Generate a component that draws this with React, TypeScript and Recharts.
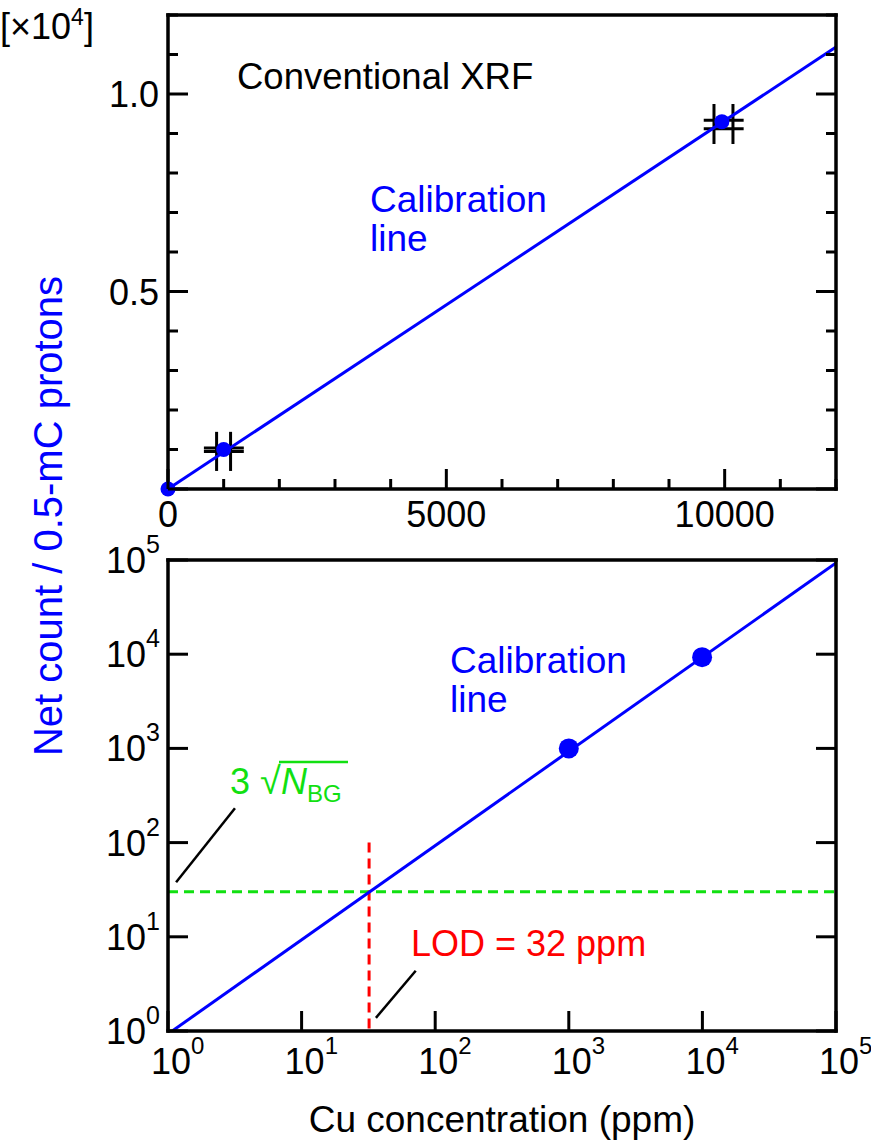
import React from "react";
import {
  ComposedChart,
  Line,
  Scatter,
  XAxis,
  YAxis,
  ReferenceLine,
} from "recharts";

// top panel: linear calibration (conventional XRF)
const xrfConc = [0, 1000, 9950];
const xrfCount = [0, 1000, 9300];
const calConc = [0, 12000];
const calCount = [0, 11190];
const linTicks = [0, 1000, 2000, 3000, 4000, 5000, 6000, 7000, 8000, 9000, 10000, 11000, 12000];

// error hashes on the top panel (data units)
const hashH = [
  { y: 1040, x1: 645, x2: 1362 },
  { y: 950, x1: 645, x2: 1362 },
  { y: 9334, x1: 9624, x2: 10341 },
  { y: 9121, x1: 9624, x2: 10341 },
];
const hashV = [
  { x: 873, y1: 457, y2: 1447 },
  { x: 1124, y1: 457, y2: 1447 },
  { x: 9808, y1: 8734, y2: 9747 },
  { x: 10149, y1: 8734, y2: 9747 },
];

// bottom panel: log-log
const logConc = [1000, 9950];
const logCount = [1000, 9300];
const logCalConc = [1, 100000];
const logCalCount = [0.93, 93000];
const logTicks = [1, 10, 100, 1000, 10000, 100000];
const bgLevel = 30;
const lodConc = 32;
const lodTop = 100;
const leaders = [
  { x1: 1.15, y1: 38, x2: 3.17, y2: 232 },
  { x1: 36, y1: 1.38, x2: 71.5, y2: 4.36 },
];

const BLUE = "#0000ff";
const GREEN = "#11e011";
const RED = "#ff0000";
const FONT = "'Liberation Sans', Arial, sans-serif";

const xrfPts = xrfConc.map((x, i) => ({ x, y: xrfCount[i] }));
const calLine = calConc.map((x, i) => ({ x, y: calCount[i] }));
const logPts = logConc.map((x, i) => ({ x, y: logCount[i] }));
const logLine = logCalConc.map((x, i) => ({ x, y: logCalCount[i] }));

const axisLine = { stroke: "#000", strokeWidth: 3.5, strokeLinecap: "square" as const };

const isMajor = (v: number) => v % 5000 === 0;

const LinBottomTick = ({ x, y, payload }: any) => {
  const v = payload.value;
  return (
    <g>
      <line x1={x} x2={x} y1={y} y2={y - (isMajor(v) ? 20 : 10)} stroke="#000" strokeWidth={3} />
      {isMajor(v) && (
        <text x={x} y={y + 38} textAnchor="middle" fontSize={36} fill="#000" fontFamily={FONT}>
          {v}
        </text>
      )}
    </g>
  );
};

const LinTopTick = ({ x, y, payload }: any) => (
  <line x1={x} x2={x} y1={y} y2={y + (isMajor(payload.value) ? 20 : 10)} stroke="#000" strokeWidth={3} />
);

const LinLeftTick = ({ x, y, payload }: any) => {
  const v = payload.value;
  return (
    <g>
      <line x1={x} x2={x + (isMajor(v) ? 20 : 10)} y1={y} y2={y} stroke="#000" strokeWidth={3} />
      {isMajor(v) && v > 0 && (
        <text x={x - 9} y={y + 13} textAnchor="end" fontSize={36} fill="#000" fontFamily={FONT}>
          {(v / 10000).toFixed(1)}
        </text>
      )}
    </g>
  );
};

const LinRightTick = ({ x, y, payload }: any) => (
  <line x1={x} x2={x - (isMajor(payload.value) ? 20 : 10)} y1={y} y2={y} stroke="#000" strokeWidth={3} />
);

const exp10 = (v: number) => Math.round(Math.log10(v));

const LogBottomTick = ({ x, y, payload }: any) => (
  <g>
    <line x1={x} x2={x} y1={y} y2={y - 20} stroke="#000" strokeWidth={3} />
    <text x={x - 17} y={y + 43} fontSize={36} fill="#000" fontFamily={FONT}>
      10
      <tspan dy={-20} fontSize={24}>
        {exp10(payload.value)}
      </tspan>
    </text>
  </g>
);

const LogTopTick = ({ x, y }: any) => (
  <line x1={x} x2={x} y1={y} y2={y + 20} stroke="#000" strokeWidth={3} />
);

const LogLeftTick = ({ x, y, payload }: any) => (
  <g>
    <line x1={x} x2={x + 20} y1={y} y2={y} stroke="#000" strokeWidth={3} />
    <text x={x - 8} y={y + 13} textAnchor="end" fontSize={36} fill="#000" fontFamily={FONT}>
      10
      <tspan dy={-20} fontSize={25}>
        {exp10(payload.value)}
      </tspan>
    </text>
  </g>
);

const LogRightTick = ({ x, y }: any) => (
  <line x1={x} x2={x - 20} y1={y} y2={y} stroke="#000" strokeWidth={3} />
);

const dot = (r: number) => (props: any) => <circle cx={props.cx} cy={props.cy} r={r} fill={BLUE} />;

function TopPanel() {
  return (
    <ComposedChart width={871} height={540} margin={{ top: 0, right: 0, bottom: 0, left: 0 }}>
      <XAxis dataKey="x" type="number" domain={[0, 12000]} ticks={linTicks} interval={0}
        height={51} tickSize={0} tickMargin={0} tick={<LinBottomTick />} axisLine={axisLine} />
      <XAxis xAxisId="t" orientation="top" type="number" domain={[0, 12000]} ticks={linTicks} interval={0}
        allowDataOverflow height={15} tickSize={0} tickMargin={0} tick={<LinTopTick />} axisLine={axisLine} />
      <YAxis type="number" domain={[0, 12000]} ticks={linTicks} interval={0} width={168}
        tickSize={0} tickMargin={0} tick={<LinLeftTick />} axisLine={axisLine} />
      <YAxis yAxisId="r" orientation="right" type="number" domain={[0, 12000]} ticks={linTicks} interval={0}
        allowDataOverflow width={35} tickSize={0} tickMargin={0} tick={<LinRightTick />} axisLine={axisLine} />
      {hashH.map((h, i) => (
        <ReferenceLine key={"h" + i} segment={[{ x: h.x1, y: h.y }, { x: h.x2, y: h.y }]} stroke="#000" strokeWidth={3} />
      ))}
      {hashV.map((h, i) => (
        <ReferenceLine key={"v" + i} segment={[{ x: h.x, y: h.y1 }, { x: h.x, y: h.y2 }]} stroke="#000" strokeWidth={3} />
      ))}
      <Line data={calLine} dataKey="y" type="linear" stroke={BLUE} strokeWidth={3} dot={false} isAnimationActive={false} />
      <Scatter data={xrfPts} dataKey="y" fill={BLUE} shape={dot(7.5)} isAnimationActive={false} />
    </ComposedChart>
  );
}

function BottomPanel() {
  return (
    <ComposedChart width={871} height={642} margin={{ top: 0, right: 0, bottom: 0, left: 0 }}>
      <XAxis dataKey="x" type="number" scale="log" domain={[1, 100000]} ticks={logTicks} interval={0}
        allowDataOverflow height={111} tickSize={0} tickMargin={0} tick={<LogBottomTick />} axisLine={axisLine} />
      <XAxis xAxisId="t" orientation="top" type="number" scale="log" domain={[1, 100000]} ticks={logTicks}
        interval={0} allowDataOverflow height={60} tickSize={0} tickMargin={0} tick={<LogTopTick />} axisLine={axisLine} />
      <YAxis type="number" scale="log" domain={[1, 100000]} ticks={logTicks} interval={0} allowDataOverflow
        width={168} tickSize={0} tickMargin={0} tick={<LogLeftTick />} axisLine={axisLine} />
      <YAxis yAxisId="r" orientation="right" type="number" scale="log" domain={[1, 100000]} ticks={logTicks}
        interval={0} allowDataOverflow width={35} tickSize={0} tickMargin={0} tick={<LogRightTick />} axisLine={axisLine} />
      <ReferenceLine y={bgLevel} stroke={GREEN} strokeWidth={3} strokeDasharray="10 6" />
      <ReferenceLine segment={[{ x: lodConc, y: lodTop }, { x: lodConc, y: 1 }]} stroke={RED} strokeWidth={3} strokeDasharray="10 6" />
      {leaders.map((l, i) => (
        <ReferenceLine key={i} segment={[{ x: l.x1, y: l.y1 }, { x: l.x2, y: l.y2 }]} stroke="#000" strokeWidth={2.5} />
      ))}
      <Line data={logLine} dataKey="y" type="linear" stroke={BLUE} strokeWidth={3} dot={false} isAnimationActive={false} />
      <Scatter data={logPts} dataKey="y" fill={BLUE} shape={dot(10)} isAnimationActive={false} />
    </ComposedChart>
  );
}

export default function App() {
  return (
    <div style={{ position: "absolute", left: 0, top: 0, width: 871, height: 1142, background: "#fff", fontFamily: FONT }}>
      <div style={{ position: "absolute", left: 0, top: 0 }}>
        <TopPanel />
      </div>
      <div style={{ position: "absolute", left: 0, top: 500 }}>
        <BottomPanel />
      </div>
      <svg width={871} height={1142} style={{ position: "absolute", left: 0, top: 0, pointerEvents: "none" }} fontFamily={FONT}>
        <text x={0} y={39} fontSize={36} fill="#000">
          [×10<tspan dy={-14} fontSize={23}>4</tspan>
          <tspan dy={14} fontSize={36}>]</tspan>
        </text>
        <text x={237} y={89} fontSize={36.5} fill="#000">Conventional XRF</text>
        <text x={370} y={212} fontSize={37} fill={BLUE}>Calibration</text>
        <text x={370} y={251} fontSize={37} fill={BLUE}>line</text>
        <text x={450} y={673} fontSize={37} fill={BLUE}>Calibration</text>
        <text x={450} y={712} fontSize={37} fill={BLUE}>line</text>
        <text x={230} y={794} fontSize={36} fill={GREEN}>
          3 <tspan fontSize={38}>√</tspan><tspan fontStyle="italic">N</tspan>
          <tspan dy={8} fontSize={24}>BG</tspan>
        </text>
        <line x1={279} x2={348} y1={762} y2={762} stroke={GREEN} strokeWidth={2.5} />
        <text x={411} y={956} fontSize={36} fill={RED}>LOD = 32 ppm</text>
        <text transform="translate(62,516) rotate(-90)" textAnchor="middle" fontSize={40} fill={BLUE}>
          Net count / 0.5-mC protons
        </text>
        <text x={502} y={1132} textAnchor="middle" fontSize={37} fill="#000">Cu concentration (ppm)</text>
      </svg>
    </div>
  );
}
